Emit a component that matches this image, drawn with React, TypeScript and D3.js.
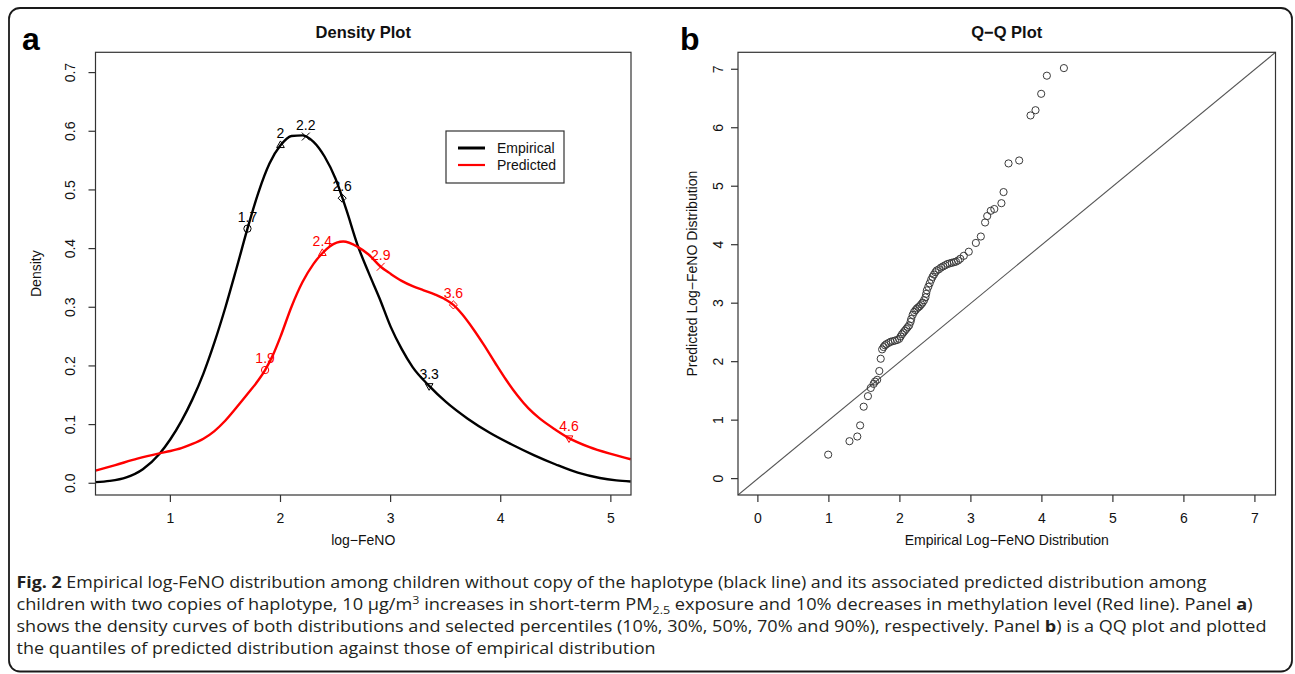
import React from 'react';
import * as d3 from 'd3';

// ---------- Data ----------
const densityTicks = [0, 0.1, 0.2, 0.3, 0.4, 0.5, 0.6, 0.7];
const densityTickLabels = ['0.0', '0.1', '0.2', '0.3', '0.4', '0.5', '0.6', '0.7'];
const fenoTicks = [1, 2, 3, 4, 5];

const empiricalX = [0.32, 0.45, 0.6, 0.75, 0.9, 1.0, 1.1, 1.2, 1.3, 1.4, 1.5, 1.6, 1.7, 1.8, 1.9, 2.0, 2.1, 2.2, 2.3, 2.4, 2.5, 2.6, 2.7, 2.8, 2.9, 3.0, 3.1, 3.2, 3.35, 3.5, 3.7, 3.9, 4.1, 4.3, 4.5, 4.7, 4.9, 5.05, 5.18];
const empiricalY = [0.002, 0.004, 0.01, 0.024, 0.05, 0.075, 0.106, 0.143, 0.187, 0.24, 0.3, 0.366, 0.434, 0.496, 0.545, 0.576, 0.592, 0.593, 0.582, 0.557, 0.519, 0.465, 0.406, 0.359, 0.315, 0.267, 0.229, 0.198, 0.166, 0.139, 0.11, 0.086, 0.066, 0.048, 0.032, 0.018, 0.009, 0.005, 0.003];

const predictedX = [0.32, 0.5, 0.7, 0.9, 1.0, 1.1, 1.2, 1.3, 1.4, 1.5, 1.6, 1.7, 1.8, 1.86, 1.93, 2.0, 2.1, 2.2, 2.3, 2.38, 2.45, 2.57, 2.7, 2.8, 2.91, 3.0, 3.1, 3.2, 3.3, 3.4, 3.5, 3.57, 3.65, 3.75, 3.85, 3.95, 4.05, 4.15, 4.25, 4.35, 4.5, 4.62, 4.8, 5.0, 5.18];
const predictedY = [0.0215, 0.031, 0.042, 0.051, 0.055, 0.06, 0.067, 0.076, 0.089, 0.107, 0.129, 0.152, 0.176, 0.193, 0.218, 0.25, 0.301, 0.343, 0.374, 0.392, 0.404, 0.412, 0.403, 0.39, 0.369, 0.357, 0.345, 0.336, 0.329, 0.322, 0.313, 0.304, 0.288, 0.263, 0.235, 0.205, 0.176, 0.15, 0.128, 0.111, 0.091, 0.077, 0.062, 0.05, 0.041];

const empMarkX = [1.7, 2.0, 2.23, 2.56, 3.35];
const empMarkY = [0.434, 0.576, 0.591, 0.486, 0.166];
const empMarkLabels = ['1.7', '2', '2.2', '2.6', '3.3'];
const predMarkX = [1.86, 2.38, 2.91, 3.57, 4.62];
const predMarkY = [0.193, 0.392, 0.369, 0.304, 0.077];
const predMarkLabels = ['1.9', '2.4', '2.9', '3.6', '4.6'];
const markerShapes = ['circle', 'triangle', 'times', 'diamond', 'triangleDown'];

const seriesNames = ['Empirical', 'Predicted'];
const seriesColors = ['#000000', '#ff0000'];

const qqTicks = [0, 1, 2, 3, 4, 5, 6, 7];
const qqEmpirical = [0.99, 1.29, 1.4, 1.44, 1.49, 1.55, 1.59, 1.63, 1.65, 1.68, 1.71, 1.73, 1.75,
  1.77, 1.79, 1.81, 1.84, 1.87, 1.9, 1.93, 1.96, 1.99, 2.01, 2.03, 2.05, 2.07, 2.09, 2.11, 2.13, 2.15, 2.16, 2.18, 2.2, 2.22, 2.24, 2.26, 2.28, 2.3, 2.32, 2.34, 2.36, 2.37, 2.38, 2.4, 2.42, 2.44, 2.46, 2.48, 2.5, 2.52, 2.55, 2.58, 2.61, 2.64, 2.67, 2.7, 2.73, 2.76, 2.79, 2.82, 2.85,
  2.9, 2.97, 3.07, 3.14, 3.2, 3.23, 3.28, 3.33, 3.43, 3.46, 3.53, 3.68, 3.84, 3.91, 3.99, 4.07, 4.31];
const qqPredicted = [0.41, 0.64, 0.72, 0.91, 1.23, 1.41, 1.55, 1.62, 1.66, 1.69, 1.84, 2.05, 2.21,
  2.25, 2.28, 2.3, 2.32, 2.34, 2.35, 2.36, 2.37, 2.39, 2.43, 2.47, 2.5, 2.53, 2.56, 2.59, 2.62, 2.68, 2.73, 2.8, 2.85, 2.88, 2.91, 2.93, 2.95, 2.98, 3.01, 3.05, 3.1, 3.16, 3.22, 3.28, 3.34, 3.4, 3.45, 3.49, 3.53, 3.56, 3.58, 3.61, 3.63, 3.65, 3.67, 3.68, 3.69, 3.7, 3.71, 3.73, 3.76,
  3.81, 3.88, 4.03, 4.14, 4.38, 4.49, 4.58, 4.61, 4.71, 4.9, 5.39, 5.44, 6.21, 6.3, 6.58, 6.89, 7.02];

// ---------- Layout ----------
const W = 1295;
const H = 674;
const FONT = '"Liberation Sans", Arial, Helvetica, sans-serif';
const CAP_FONT = '"Open Sans", "Noto Sans", sans-serif';

const leftBox = { x0: 95.5, x1: 631, y0: 52.3, y1: 495 };
const rightBox = { x0: 738, x1: 1275.5, y0: 52.3, y1: 495 };

const xL = d3.scaleLinear().domain([0.32, 5.183]).range([leftBox.x0, leftBox.x1]);
const yL = d3.scaleLinear().domain([-0.02, 0.7346]).range([leftBox.y1, leftBox.y0]);
const xR = d3.scaleLinear().domain([-0.28, 7.29]).range([rightBox.x0, rightBox.x1]);
const yR = d3.scaleLinear().domain([-0.28, 7.29]).range([rightBox.y1, rightBox.y0]);

const lineGen = d3
  .line<[number, number]>()
  .x((d) => xL(d[0]))
  .y((d) => yL(d[1]))
  .curve(d3.curveMonotoneX);

function markerPath(shape: string): { d: string; rot: number } {
  const size = 42;
  switch (shape) {
    case 'circle':
      return { d: d3.symbol().type(d3.symbolCircle).size(size)()!, rot: 0 };
    case 'triangle':
      return { d: d3.symbol().type(d3.symbolTriangle2).size(size)()!, rot: 0 };
    case 'times':
      return { d: d3.symbol().type(d3.symbolTimes).size(size)()!, rot: 0 };
    case 'diamond':
      return { d: d3.symbol().type(d3.symbolDiamond2).size(size)()!, rot: 0 };
    default:
      return { d: d3.symbol().type(d3.symbolTriangle2).size(size)()!, rot: 180 };
  }
}

function DensityPanel() {
  const empPts = empiricalX.map((x, i) => [x, empiricalY[i]] as [number, number]);
  const predPts = predictedX.map((x, i) => [x, predictedY[i]] as [number, number]);
  const markSets = [
    { xs: empMarkX, ys: empMarkY, labels: empMarkLabels, color: seriesColors[0] },
    { xs: predMarkX, ys: predMarkY, labels: predMarkLabels, color: seriesColors[1] },
  ];
  const cx = (leftBox.x0 + leftBox.x1) / 2;
  const cy = (leftBox.y0 + leftBox.y1) / 2;
  return (
    <g>
      <text x={22} y={50} fontFamily={FONT} fontWeight="bold" fontSize={32} fill="#000">a</text>
      <text x={cx} y={38} textAnchor="middle" fontFamily={FONT} fontWeight="bold" fontSize={16.5} fill="#111">Density Plot</text>
      <defs>
        <clipPath id="clipL">
          <rect x={leftBox.x0} y={leftBox.y0} width={leftBox.x1 - leftBox.x0} height={leftBox.y1 - leftBox.y0} />
        </clipPath>
      </defs>
      <g clipPath="url(#clipL)">
        <path d={lineGen(empPts)!} fill="none" stroke={seriesColors[0]} strokeWidth={2.4} />
        <path d={lineGen(predPts)!} fill="none" stroke={seriesColors[1]} strokeWidth={2.4} />
      </g>
      {markSets.map((set, si) => (
        <g key={si}>
          {set.xs.map((x, i) => {
            const m = markerPath(markerShapes[i]);
            return (
              <g key={i}>
                <path
                  d={m.d}
                  transform={`translate(${xL(x)},${yL(set.ys[i])}) rotate(${m.rot})`}
                  fill="none"
                  stroke={set.color}
                  strokeWidth={1}
                />
                <text
                  x={xL(x)}
                  y={yL(set.ys[i]) - 7}
                  textAnchor="middle"
                  fontFamily={FONT}
                  fontSize={14}
                  fill={set.color}
                >
                  {set.labels[i]}
                </text>
              </g>
            );
          })}
        </g>
      ))}
      <rect x={leftBox.x0} y={leftBox.y0} width={leftBox.x1 - leftBox.x0} height={leftBox.y1 - leftBox.y0} fill="none" stroke="#333" strokeWidth={1.2} />
      {fenoTicks.map((t) => (
        <g key={t}>
          <line x1={xL(t)} x2={xL(t)} y1={leftBox.y1} y2={leftBox.y1 + 7} stroke="#333" strokeWidth={1.2} />
          <text x={xL(t)} y={523} textAnchor="middle" fontFamily={FONT} fontSize={14} fill="#111">{t}</text>
        </g>
      ))}
      {densityTicks.map((t, i) => (
        <g key={t}>
          <line x1={leftBox.x0 - 7} x2={leftBox.x0} y1={yL(t)} y2={yL(t)} stroke="#333" strokeWidth={1.2} />
          <text
            transform={`translate(75,${yL(t)}) rotate(-90)`}
            textAnchor="middle"
            fontFamily={FONT}
            fontSize={14}
            fill="#111"
          >
            {densityTickLabels[i]}
          </text>
        </g>
      ))}
      <text x={cx} y={545} textAnchor="middle" fontFamily={FONT} fontSize={14} fill="#111">log−FeNO</text>
      <text transform={`translate(41,${cy}) rotate(-90)`} textAnchor="middle" fontFamily={FONT} fontSize={14} fill="#111">Density</text>
      {/* legend */}
      <rect x={446} y={131} width={118} height={52} fill="#fff" stroke="#333" strokeWidth={1.2} />
      {seriesNames.map((name, i) => (
        <g key={name}>
          <line x1={458} x2={485} y1={148 + i * 17} y2={148 + i * 17} stroke={seriesColors[i]} strokeWidth={i === 0 ? 3 : 2.2} />
          <text x={497} y={153 + i * 17} fontFamily={FONT} fontSize={14} fill="#111">{name}</text>
        </g>
      ))}
    </g>
  );
}

function QQPanel() {
  const cx = (rightBox.x0 + rightBox.x1) / 2;
  const cy = (rightBox.y0 + rightBox.y1) / 2;
  const dom = xR.domain();
  return (
    <g>
      <text x={680} y={50} fontFamily={FONT} fontWeight="bold" fontSize={32} fill="#000">b</text>
      <text x={cx} y={38} textAnchor="middle" fontFamily={FONT} fontWeight="bold" fontSize={16.5} fill="#111">Q−Q Plot</text>
      <defs>
        <clipPath id="clipR">
          <rect x={rightBox.x0} y={rightBox.y0} width={rightBox.x1 - rightBox.x0} height={rightBox.y1 - rightBox.y0} />
        </clipPath>
      </defs>
      <g clipPath="url(#clipR)">
        <line x1={xR(dom[0])} y1={yR(dom[0])} x2={xR(dom[1])} y2={yR(dom[1])} stroke="#555" strokeWidth={1.1} />
        {qqEmpirical.map((x, i) => (
          <circle key={i} cx={xR(x)} cy={yR(qqPredicted[i])} r={3.6} fill="none" stroke="#3a3a3a" strokeWidth={1} />
        ))}
      </g>
      <rect x={rightBox.x0} y={rightBox.y0} width={rightBox.x1 - rightBox.x0} height={rightBox.y1 - rightBox.y0} fill="none" stroke="#333" strokeWidth={1.2} />
      {qqTicks.map((t) => (
        <g key={t}>
          <line x1={xR(t)} x2={xR(t)} y1={rightBox.y1} y2={rightBox.y1 + 7} stroke="#333" strokeWidth={1.2} />
          <text x={xR(t)} y={523} textAnchor="middle" fontFamily={FONT} fontSize={14} fill="#111">{t}</text>
          <line x1={rightBox.x0 - 7} x2={rightBox.x0} y1={yR(t)} y2={yR(t)} stroke="#333" strokeWidth={1.2} />
          <text transform={`translate(723,${yR(t)}) rotate(-90)`} textAnchor="middle" fontFamily={FONT} fontSize={14} fill="#111">{t}</text>
        </g>
      ))}
      <text x={cx} y={545} textAnchor="middle" fontFamily={FONT} fontSize={14} fill="#111">Empirical Log−FeNO Distribution</text>
      <text transform={`translate(697,${cy}) rotate(-90)`} textAnchor="middle" fontFamily={FONT} fontSize={14} fill="#111">Predicted Log−FeNO Distribution</text>
    </g>
  );
}

function Caption() {
  const x0 = 16.5;
  const common = { fontFamily: CAP_FONT, fontSize: 16, fill: '#231f20', lengthAdjust: 'spacingAndGlyphs' as const };
  return (
    <g>
      <text x={x0} y={588} textLength={1190} {...common}>
        <tspan fontWeight="bold">Fig. 2</tspan> Empirical log-FeNO distribution among children without copy of the haplotype (black line) and its associated predicted distribution among
      </text>
      <text x={x0} y={610} textLength={1236} {...common}>
        children with two copies of haplotype, 10 μg/m<tspan dy={-6} fontSize={11}>3</tspan><tspan dy={6}> increases in short-term PM</tspan><tspan dy={4} fontSize={11}>2.5</tspan><tspan dy={-4}> exposure and 10% decreases in methylation level (Red line). Panel </tspan><tspan fontWeight="bold">a</tspan>)
      </text>
      <text x={x0} y={632} textLength={1250} {...common}>
        shows the density curves of both distributions and selected percentiles (10%, 30%, 50%, 70% and 90%), respectively. Panel <tspan fontWeight="bold">b</tspan>) is a QQ plot and plotted
      </text>
      <text x={x0} y={654} textLength={639} {...common}>
        the quantiles of predicted distribution against those of empirical distribution
      </text>
    </g>
  );
}

export default function App() {
  return (
    <svg
      width={W}
      height={H}
      viewBox={`0 0 ${W} ${H}`}
      style={{ position: 'absolute', left: 0, top: 0, display: 'block', background: '#fff' }}
    >
      <rect x={0} y={0} width={W} height={H} fill="#fff" />
      <rect x={9} y={8} width={1283} height={663.5} rx={11} ry={11} fill="none" stroke="#1a1a1a" strokeWidth={1.8} />
      <DensityPanel />
      <QQPanel />
      <Caption />
    </svg>
  );
}
